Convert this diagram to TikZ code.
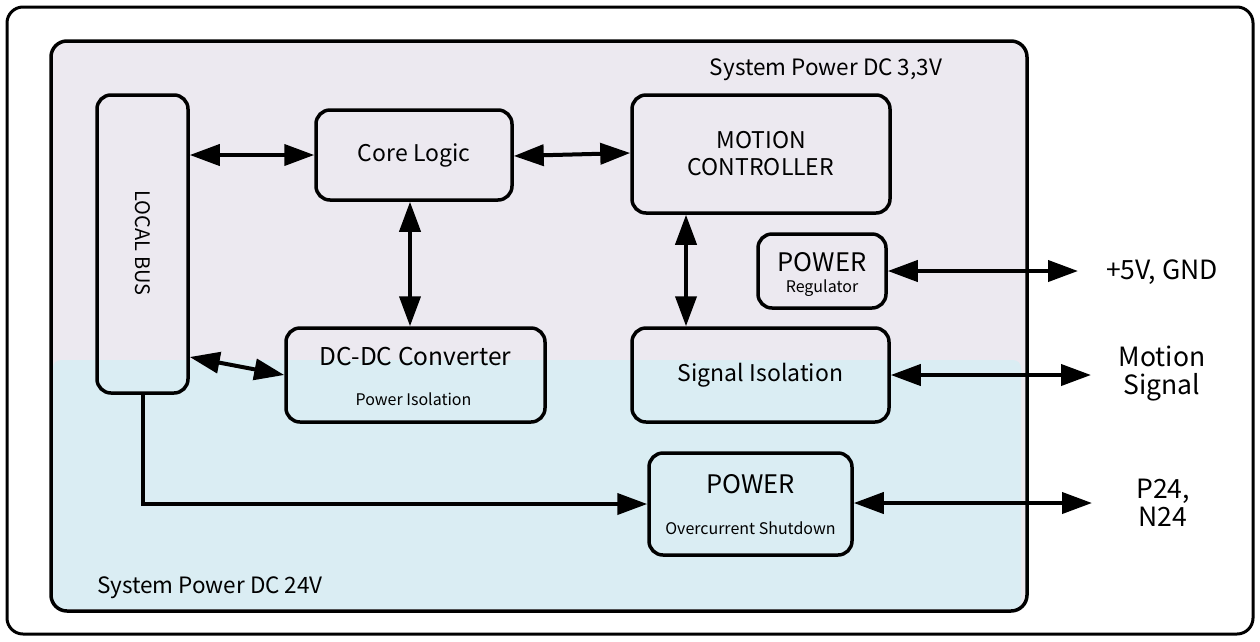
\documentclass[tikz,border=0pt]{standalone}
\usepackage{fontspec}
\setmainfont{Noto Sans CJK KR}
\usetikzlibrary{arrows.meta,calc}
\definecolor{lav}{HTML}{ECE9F0}
\definecolor{lblue}{HTML}{DAEDF3}
\newcommand{\fbig}{\fontsize{23}{27}\selectfont}
\newcommand{\fpow}{\fontsize{25.5}{29}\selectfont}
\newcommand{\fmid}{\fontsize{22.5}{26}\selectfont}
\newcommand{\fout}{\fontsize{26.5}{28}\selectfont}
\newcommand{\fsmall}{\fontsize{16}{19}\selectfont}
\begin{document}
\begin{tikzpicture}[x=1pt,y=-1pt,
  box/.style={draw=black,line width=3.5pt,rounded corners=14pt,minimum width=#1},
  txt/.style={inner sep=0pt},
  arr/.style={line width=4pt,{Triangle[length=30pt,width=21pt]}-{Triangle[length=30pt,width=21pt]}},
  arrone/.style={line width=4pt,-{Triangle[length=30pt,width=21pt]}},
  lbl/.style={font=\fout,align=center,inner sep=0pt}]
\useasboundingbox (0,0) rectangle (1260,641);
% outer frame
\draw[line width=3pt,rounded corners=16pt,fill=white] (7,7) rectangle (1253,634);
% inner region
\node[draw=none,fill=lav,rounded corners=16pt,minimum width=976pt,minimum height=570pt,inner sep=0pt] (area) at (539,326) {};
\fill[lblue,rounded corners=8pt] (53,360) rectangle (1021,609);
\draw[line width=3.5pt,rounded corners=16pt] (51,41) rectangle (1027,611);
\node[font=\fmid,txt] (t33) at (826,70) {System Power DC 3,3V};
\node[font=\fmid,txt] (t24) at (210,588) {System Power DC 24V};
% boxes
\node[box=91pt,minimum height=298pt] (bus) at (142.5,244) {};
\node[font=\fontsize{20}{24}\selectfont,rotate=-90,txt] (bust) at (142.5,243) {LOCAL BUS};
\node[box=196pt,minimum height=90pt,font=\fbig] (core) at (414,155) {Core Logic};
\node[box=258pt,minimum height=118pt,font=\fbig,align=center] (motion) at (761,154) {MOTION\\CONTROLLER};
\node[box=128pt,minimum height=74pt] (reg) at (822,271) {};
\node[txt,font=\fpow] (regt) at (822,262) {POWER};
\node[txt,font=\fsmall] (regs) at (822,288) {Regulator};
\node[box=259pt,minimum height=94pt] (dcdc) at (415.5,375) {};
\node[txt,font=\fontsize{24.5}{28}\selectfont] (dcdct) at (415.5,357) {DC-DC Converter};
\node[txt,font=\fsmall] (dcdcs) at (413.5,399) {Power Isolation};
\node[box=257pt,minimum height=94pt,font=\fbig] (sig) at (760.5,375) {Signal Isolation};
\node[box=203pt,minimum height=102pt] (poc) at (750.5,504) {};
\node[txt,font=\fpow] (poct) at (750.5,484) {POWER};
\node[txt,font=\fsmall] (pocs) at (750.5,528) {Overcurrent Shutdown};
% outside labels
\node[lbl] (l5) at (1162,272) {+5V, GND};
\node[lbl] (lms) at (1162,374) {Motion\\Signal};
\node[lbl] (lp) at (1163,503) {P24,\\N24};
\coordinate (e5) at (1078,271);
\coordinate (ems) at (1091,375);
\coordinate (ep) at (1092,503);
% arrows
\draw[arr] (bus.east |- core.west) -- (core.west);
\draw[arr] ([yshift=-1pt]core.east) -- ([yshift=2pt]core.east -| motion.west);
\draw[arr] ([xshift=-4pt]core.south) -- ([xshift=-5.5pt]dcdc.north);
\draw[arr] ([xshift=-75pt]motion.south) -- ([xshift=-74.5pt]sig.north);
\draw[arr] ([yshift=-113pt]bus.east) -- (dcdc.west);
\draw[arr] (reg.east) -- (e5);
\draw[arr] (sig.east) -- (ems);
\draw[arr] ([yshift=1pt]poc.east) -- (ep);
\draw[arrone] (bus.south) -- (bus.south |- poc.west) -- (poc.west);
\end{tikzpicture}
\end{document}
